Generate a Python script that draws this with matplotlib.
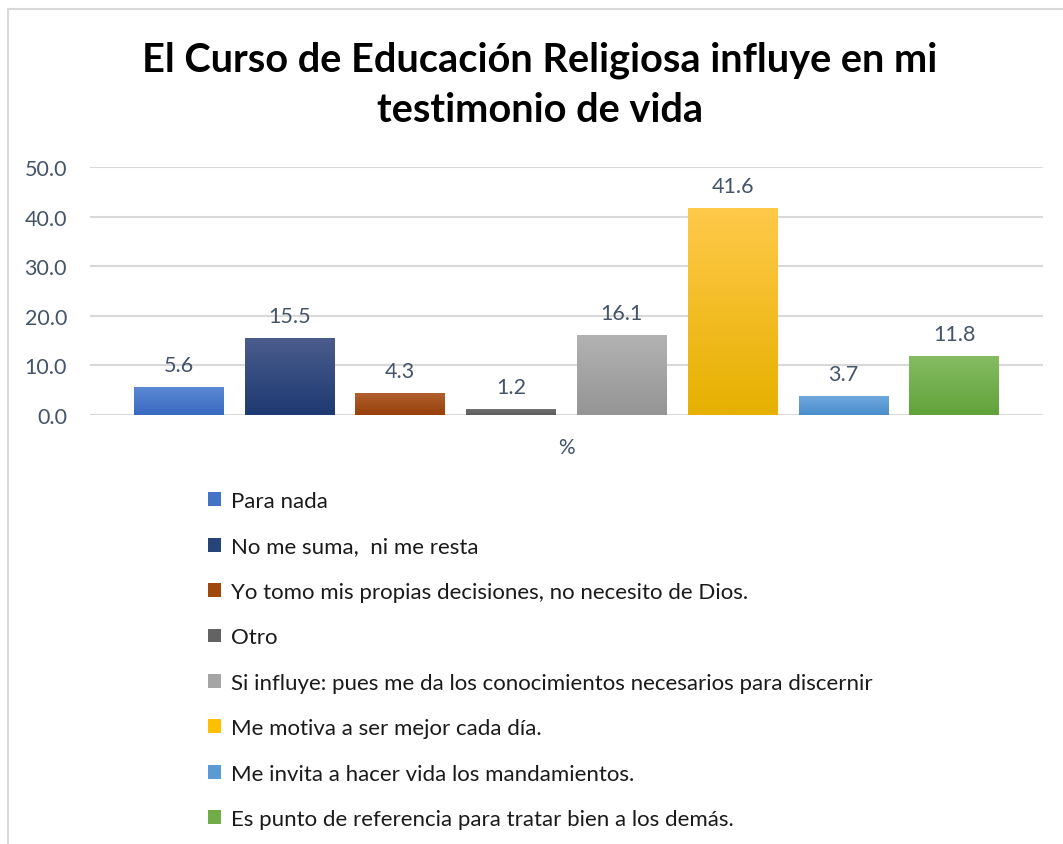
import numpy as np
import matplotlib.pyplot as plt
from matplotlib.colors import LinearSegmentedColormap
from matplotlib.patches import Patch
from matplotlib.lines import Line2D

plt.rcParams['font.family'] = ['Lato', 'DejaVu Sans']

categories = ["Para nada",
              "No me suma,  ni me resta",
              "Yo tomo mis propias decisiones, no necesito de Dios.",
              "Otro",
              "Si influye: pues me da los conocimientos necesarios para discernir",
              "Me motiva a ser mejor cada día.",
              "Me invita a hacer vida los mandamientos.",
              "Es punto de referencia para tratar bien a los demás."]
values = [5.6, 15.5, 4.3, 1.2, 16.1, 41.6, 3.7, 11.8]
colors = ["#4472C4", "#264478", "#9E480E", "#636363",
          "#A5A5A5", "#FFC000", "#5B9BD5", "#70AD47"]
tops = ["#5B88D3", "#4A5C8C", "#B0602E", "#707070",
        "#B2B2B2", "#FFC94A", "#6FA8DE", "#84BC62"]
bottoms = ["#3A69C2", "#1E3A72", "#99400A", "#5C5C5C",
           "#959595", "#E6B000", "#4A8DCB", "#62A23A"]

text_col = "#44546A"

fig = plt.figure(figsize=(10.63, 8.45), dpi=100)
ax = fig.add_axes([90/1063, 1-416/845, 953/1063, 248/845])

x = np.arange(len(values))
w = 0.81
bars = ax.bar(x, values, width=w, color=colors, zorder=2)

grad = np.linspace(0, 1, 100).reshape(-1, 1)
for i, b in enumerate(bars):
    cm = LinearSegmentedColormap.from_list("g%d" % i, [tops[i], bottoms[i]])
    ax.imshow(grad, cmap=cm, aspect='auto', zorder=3,
              extent=[b.get_x(), b.get_x() + w, 0, values[i]])
    ax.annotate("%.1f" % values[i], (x[i], values[i]), xytext=(0, 16),
                textcoords='offset points', ha='center', va='center',
                fontsize=15.5, color=text_col)

ax.set_xlim(-0.80, 7.80)
ax.set_ylim(0, 50)
ax.set_yticks(np.arange(0, 51, 10))
ax.set_yticklabels(["%.1f" % v for v in np.arange(0, 51, 10)])
ax.tick_params(axis='y', length=0, labelsize=15.5, labelcolor=text_col, pad=16.5)
ax.set_xticks([])
ax.grid(axis='y', color='#D9D9D9', linewidth=1.5, zorder=0)
for s in ax.spines.values():
    s.set_visible(False)
ax.set_xlabel("%", fontsize=15, color=text_col, labelpad=16)

fig.text(540/1063, 1-85/845, "El Curso de Educación Religiosa influye en mi\ntestimonio de vida",
         ha='center', va='center', fontsize=28.6, fontweight='bold',
         color='black', linespacing=1.42)

handles = [Patch(facecolor=c) for c in colors]
fig.legend(handles, categories, loc='upper left',
           bbox_to_anchor=(188/1063, 1-472/845), frameon=False,
           fontsize=16, handlelength=0.58, handleheight=0.58,
           handletextpad=0.45, labelspacing=1.145, labelcolor='#1A1A1A')

fig.add_artist(Line2D([8/1063, 8/1063], [0, 1-10/845], color='#D9D9D9', lw=1.5))
fig.add_artist(Line2D([8/1063, 1], [1-10/845, 1-10/845], color='#D9D9D9', lw=1.5))

fig.savefig("out.png", dpi=100)
